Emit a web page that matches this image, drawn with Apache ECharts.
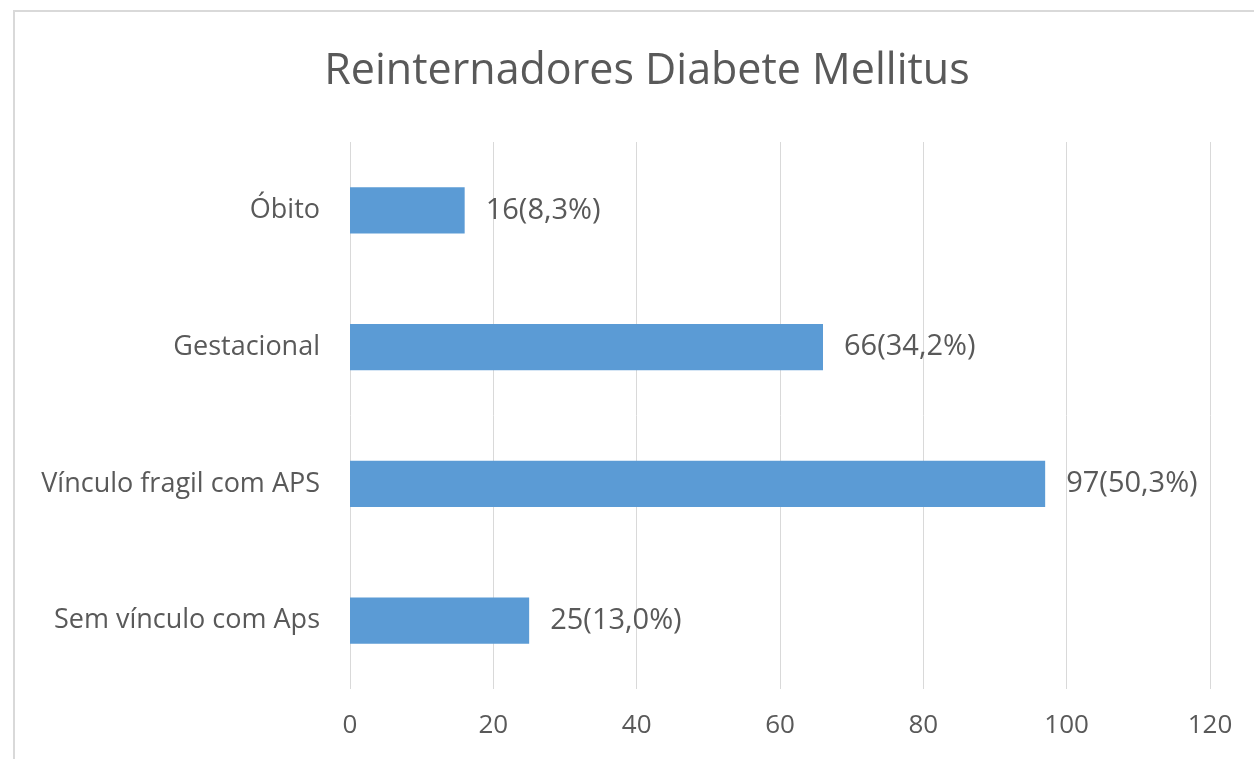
<!DOCTYPE html>
<html>
<head>
<meta charset="utf-8">
<script src="https://cdn.jsdelivr.net/npm/echarts@6/dist/echarts.min.js"></script>
<style>
  html, body { margin: 0; padding: 0; background: #fff; }
  #chart { width: 1254px; height: 759px; }
</style>
</head>
<body>
<div id="chart"></div>
<script>
// categorias de cima para baixo
const categorias = ['Óbito', 'Gestacional', 'Vínculo fragil com APS', 'Sem vínculo com Aps'];
const valores = [16, 66, 97, 25];
const rotulos = ['16(8,3%)', '66(34,2%)', '97(50,3%)', '25(13,0%)'];

const chart = echarts.init(document.getElementById('chart'));
const fonte = '"Open Sans", "Noto Sans", sans-serif';

const option = {
    animation: false,
    textStyle: { fontFamily: fonte },
    title: {
        text: 'Reinternadores Diabete Mellitus',
        left: 642,
        textAlign: 'center',
        top: 45,
        textStyle: { fontSize: 43, fontWeight: 'normal', color: '#595959', fontFamily: fonte }
    },
    graphic: [{
        type: 'rect',
        shape: { x: 14, y: 11, width: 1300, height: 800 },
        style: { fill: 'none', stroke: '#d9d9d9', lineWidth: 2 },
        silent: true
    }],
    grid: { left: 350, right: 44, top: 142, bottom: 70 },
    xAxis: {
        type: 'value',
        min: 0,
        max: 120,
        interval: 20,
        axisLine: { show: false },
        axisTick: { show: false },
        axisLabel: { fontSize: 26, color: '#595959', margin: 24 },
        splitLine: { lineStyle: { color: '#d9d9d9', width: 1 } }
    },
    yAxis: {
        type: 'category',
        inverse: true,
        data: categorias,
        axisLine: { show: false },
        axisTick: { show: false },
        axisLabel: { fontSize: 27, color: '#595959', margin: 30 }
    },
    series: [{
        type: 'bar',
        data: valores,
        barWidth: '34%',
        itemStyle: { color: '#5b9bd5' },
        label: {
            show: true,
            position: 'right',
            distance: 21,
            fontSize: 29,
            color: '#595959',
            formatter: function (p) { return rotulos[p.dataIndex]; }
        }
    }]
};

chart.setOption(option);
</script>
</body>
</html>
